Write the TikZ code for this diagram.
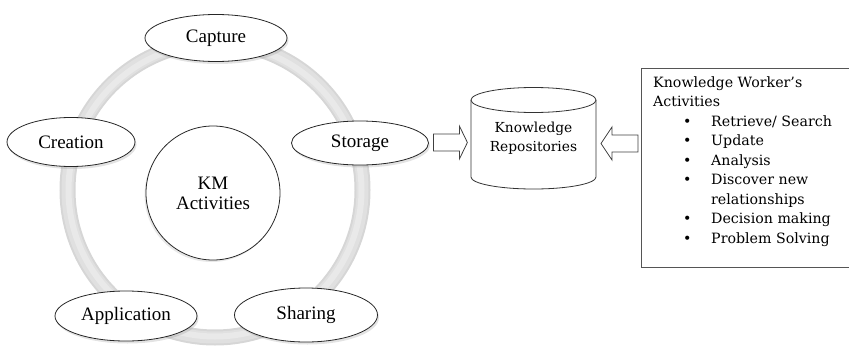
\documentclass[tikz,border=0pt]{standalone}
\usepackage{fontspec}
\setmainfont{Liberation Serif}
\newfontfamily\rfont{DejaVu Serif}
\usetikzlibrary{shapes.geometric,shadows,calc}
\definecolor{ringa}{HTML}{D6D6D6}
\definecolor{ringb}{HTML}{E0E0E0}
\definecolor{ringc}{HTML}{E9E9E9}
\definecolor{boxline}{HTML}{555555}
\tikzset{
  act/.style={ellipse, draw=black!85, line width=0.8pt, fill=white, inner sep=0pt,
    font=\fontsize{19}{21}\selectfont,
    drop shadow={opacity=0.22, shadow xshift=1.5pt, shadow yshift=-2.5pt}},
  hub/.style={circle, draw=black!85, line width=0.8pt, fill=white, inner sep=0pt,
    minimum size=134pt, align=center, font=\fontsize{19}{20}\selectfont,
    drop shadow={opacity=0.18, shadow xshift=-1.5pt, shadow yshift=-2pt}},
  blk/.style={draw=black!75, line width=0.8pt, fill=white, line join=miter},
  kwbox/.style={draw=boxline, line width=1.2pt, rectangle, inner sep=0pt},
  kwtext/.style={align=left, inner sep=0pt, font=\rfont\fontsize{14.2}{19.5}\selectfont},
  repotext/.style={align=center, inner sep=0pt, font=\rfont\fontsize{13.8}{19}\selectfont}
}
\begin{document}
\begin{tikzpicture}[x=1pt,y=-1pt]
\useasboundingbox (0,0) rectangle (849,348);
% ring
\coordinate (rc) at (215,190);
\draw[ringa, line width=16pt] (rc) circle[radius=147.5];
\draw[ringb, line width=12pt] (rc) circle[radius=147.5];
\draw[ringc, line width=6pt] (rc) circle[radius=146.5];
% hub
\node[hub] (km) at (213,193) {KM\\Activities};
% activities
\node[act, minimum width=142pt, minimum height=47pt] (capture) at (216,38) {Capture};
\node[act, minimum width=128pt, minimum height=49pt] (creation) at (71,142) {Creation};
\node[act, minimum width=137pt, minimum height=44pt] (storage) at (360,143) {Storage};
\node[act, minimum width=142pt, minimum height=50pt] (application) at (126,316) {Application};
\node[act, minimum width=143pt, minimum height=54pt] (sharing) at (306,315) {Sharing};
% cylinder
\draw[black!80, line width=0.8pt, fill=white] (471,100) -- (471,177)
   arc[start angle=180, end angle=0, x radius=62.5, y radius=12] -- (596,100);
\draw[black!80, line width=0.8pt, fill=white] (533.5,100) ellipse[x radius=62.5, y radius=12.5];
\node[repotext] (repo) at (533.5,138) {Knowledge\\Repositories};
% worker box
\node[kwbox, anchor=north west, minimum width=215pt, minimum height=199pt] (kw) at (641,68) {};
\node[kwtext, anchor=north west] (kwt) at ($(kw.north west)+(12,8.5)$) {Knowledge Worker’s\\Activities\\
\hspace*{30pt}\makebox[28pt][l]{•}Retrieve/ Search\\
\hspace*{30pt}\makebox[28pt][l]{•}Update\\
\hspace*{30pt}\makebox[28pt][l]{•}Analysis\\
\hspace*{30pt}\makebox[28pt][l]{•}Discover new\\
\hspace*{58pt}relationships\\
\hspace*{30pt}\makebox[28pt][l]{•}Decision making\\
\hspace*{30pt}\makebox[28pt][l]{•}Problem Solving};
% block arrows
\coordinate (a1) at ($(storage.east)+(4.5,-0.5)$);
\coordinate (a2) at (638,143.5);
\draw[blk] (a1) ++(0,-8.5) -- ++(26,0) -- ++(0,-8) -- ++(8,16.5) -- ++(-8,16.5) -- ++(0,-8) -- ++(-26,0) -- cycle;
\draw[blk] (a2) ++(0,-8.5) -- ++(-26,0) -- ++(0,-8) -- ++(-11,16.5) -- ++(11,16.5) -- ++(0,-8) -- ++(26,0) -- cycle;
\end{tikzpicture}
\end{document}
